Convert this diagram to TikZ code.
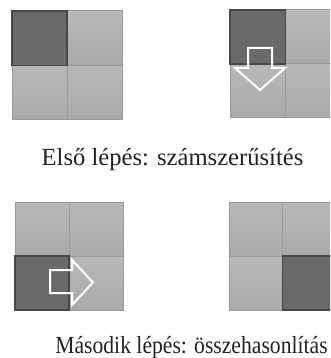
\documentclass[tikz,border=0pt]{standalone}
\usepackage{fontspec}
\setmainfont{Liberation Serif}
\definecolor{cellA}{HTML}{B8B8B8}
\definecolor{cellB}{HTML}{A9A9A9}
\definecolor{cellline}{HTML}{9A9A9A}
\definecolor{darkfill}{HTML}{6A6A6A}
\definecolor{darkline}{HTML}{474747}
\definecolor{textcol}{HTML}{222222}
\tikzset{
  lightcell/.style={draw=cellline, line width=1pt, top color=cellA, bottom color=cellB},
  darkcell/.style={draw=darkline, line width=1.6pt, fill=darkfill},
  hollowarrow/.style={draw=white, line width=2pt, line join=miter},
  caption/.style={anchor=base, font=\fontsize{24.6}{28}\selectfont, text=textcol, inner sep=0pt}
}
% #1 x0, #2 y0, #3 cell w, #4 cell h, #5 dark col (0/1), #6 dark row (0/1)
\newcommand{\mygrid}[6]{%
  \foreach \cc in {0,1}{\foreach \rr in {0,1}{%
    \path[lightcell] ({#1+\cc*#3},{#2+\rr*#4}) rectangle ++(#3,#4);}}
  \path[darkcell] ({#1+#5*#3},{#2+#6*#4}) rectangle ++(#3,#4);
}
\begin{document}
\begin{tikzpicture}[x=1pt,y=-1pt]
\useasboundingbox (0,0) rectangle (330,358);
\clip (0,0) rectangle (330,358);
\mygrid{12}{11}{55}{54.5}{0}{0}
\mygrid{230}{10}{55.5}{54}{0}{0}
\mygrid{15}{202}{54}{54}{0}{1}
\mygrid{229}{202}{53.5}{54}{1}{1}
% down arrow
\draw[hollowarrow] (248,48) -- (272,48) -- (272,68) -- (285,68) -- (260,90) -- (235,68) -- (248,68) -- cycle;
% right arrow
\draw[hollowarrow] (50,270) -- (72,270) -- (72,260) -- (93,282.5) -- (72,305) -- (72,293) -- (50,293) -- cycle;
\node[caption] (cap1) at (172.5,165) {Első lépés: számszerűsítés};
\node[caption] (cap2) at (191.5,353.5) {\scalebox{0.88}[1]{Második lépés: összehasonlítás}};
\end{tikzpicture}
\end{document}
